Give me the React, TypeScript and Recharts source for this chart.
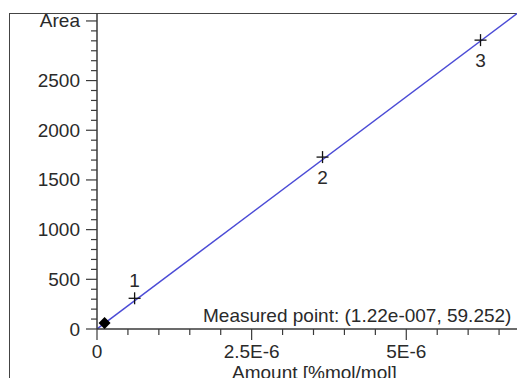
import React from 'react';
import { ComposedChart, Line, Scatter, XAxis, YAxis } from 'recharts';

// calibration points (amount, area)
const calAmounts = [6.08e-7, 3.646e-6, 6.2e-6];
const calAreas = [309, 1730, 2907];
const calNames = ['1', '2', '3'];
const calLabelBelow = [false, true, true];

// fitted calibration line end points
const fitAmounts = [0, 6.8e-6];
const fitAreas = [0, 3179];

// measured sample
const measuredAmount = [1.22e-7];
const measuredArea = [59.252];

const yTicks = Array.from({ length: 32 }, (_, i) => i * 100);
const yLabels: Record<number, string> = { 0: '0', 500: '500', 1000: '1000', 1500: '1500', 2000: '2000', 2500: '2500', 3100: 'Area' };
const xTicks = Array.from({ length: 15 }, (_, i) => i * 0.5e-6);
const xLabels: Record<string, string> = { '0': '0', '5': '2.5E-6', '10': '5E-6' };

const calData = calAmounts.map((x, i) => ({ x, y: calAreas[i], name: calNames[i], below: calLabelBelow[i] }));
const fitData = fitAmounts.map((x, i) => ({ x, y: fitAreas[i] }));
const measuredData = measuredAmount.map((x, i) => ({ x, y: measuredArea[i] }));

const FONT = '"Liberation Sans", Arial, sans-serif';
const TEXT = '#2a2a2a';
const AXIS = '#3a3a3a';

const YTick = (props: any) => {
  const { x, y, payload } = props;
  const label = yLabels[payload.value];
  const major = label !== undefined;
  return (
    <g>
      <line x1={x - (major ? 11 : 6)} x2={x} y1={y} y2={y} stroke={AXIS} strokeWidth={1.2} />
      {major && (
        <text x={x - 17} y={y} dy={6.5} textAnchor="end" fontSize={19} fontFamily={FONT} fill={TEXT}>
          {label}
        </text>
      )}
    </g>
  );
};

const XTick = (props: any) => {
  const { x, y, payload } = props;
  const idx = String(Math.round(payload.value / 0.5e-6));
  const label = xLabels[idx];
  const major = label !== undefined;
  return (
    <g>
      <line x1={x} x2={x} y1={y} y2={y + (major ? 11 : 6)} stroke={AXIS} strokeWidth={1.2} />
      {major && (
        <text x={x} y={y} dy={28.5} textAnchor="middle" fontSize={19} fontFamily={FONT} fill={TEXT}>
          {label}
        </text>
      )}
    </g>
  );
};

const CrossShape = (props: any) => {
  const { cx, cy, payload } = props;
  return (
    <g>
      <line x1={cx - 6} x2={cx + 6} y1={cy} y2={cy} stroke="#111" strokeWidth={1.3} />
      <line x1={cx} x2={cx} y1={cy - 6} y2={cy + 6} stroke="#111" strokeWidth={1.3} />
      <text x={cx} y={cy} dy={payload.below ? 27 : -11} textAnchor="middle" fontSize={19} fontFamily={FONT} fill={TEXT}>
        {payload.name}
      </text>
    </g>
  );
};

const DiamondShape = (props: any) => {
  const { cx, cy } = props;
  return <polygon points={`${cx},${cy - 6} ${cx + 6},${cy} ${cx},${cy + 6} ${cx - 6},${cy}`} fill="#000" />;
};

export default function App() {
  return (
    <div style={{ position: 'fixed', left: 0, top: 0, width: 517, height: 378, overflow: 'hidden', background: '#fff' }}>
      <div style={{ position: 'absolute', left: 9, top: 13, width: 600, height: 500, border: '1.5px solid #444', boxSizing: 'border-box' }} />
      <div style={{ position: 'absolute', left: 0, top: 0 }}>
        <ComposedChart width={560} height={420} margin={{ top: 13, right: 30, bottom: 31, left: 0 }}>
          <XAxis
            type="number"
            dataKey="x"
            domain={[0, 7e-6]}
            ticks={xTicks}
            interval={0}
            allowDataOverflow
            height={60}
            tickSize={0}
            tickMargin={0}
            tick={<XTick />}
            stroke={AXIS}
            strokeWidth={1.5}
          />
          <YAxis
            type="number"
            dataKey="y"
            domain={[0, 3180]}
            ticks={yTicks}
            interval={0}
            allowDataOverflow
            width={97}
            tickSize={0}
            tickMargin={0}
            tick={<YTick />}
            stroke={AXIS}
            strokeWidth={1.5}
          />
          <Line data={fitData} dataKey="y" stroke="#4b4bd6" strokeWidth={1.5} dot={false} isAnimationActive={false} />
          <Scatter data={calData} dataKey="y" shape={<CrossShape />} isAnimationActive={false} />
          <Scatter data={measuredData} dataKey="y" shape={<DiamondShape />} isAnimationActive={false} />
        </ComposedChart>
      </div>
      <div style={{ position: 'absolute', left: 203, top: 305, fontFamily: FONT, fontSize: 19, color: TEXT, whiteSpace: 'nowrap', lineHeight: '22px' }}>
        Measured point: (1.22e-007, 59.252)
      </div>
      <div style={{ position: 'absolute', left: 232, top: 362, fontFamily: FONT, fontSize: 19, color: TEXT, whiteSpace: 'nowrap', lineHeight: '22px' }}>
        Amount [%mol/mol]
      </div>
    </div>
  );
}
